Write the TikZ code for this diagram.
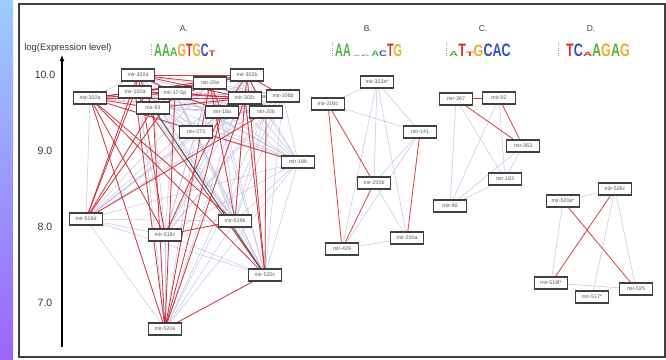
\documentclass[tikz,border=0pt]{standalone}
\usepackage{fontspec}
\setmainfont{Liberation Sans}
\usepackage{graphicx}
\usetikzlibrary{arrows.meta,backgrounds}
\definecolor{lav}{RGB}{185,185,225}
\definecolor{redge}{RGB}{212,40,45}
\definecolor{lgA}{RGB}{80,180,70}
\definecolor{lgC}{RGB}{50,80,190}
\definecolor{lgG}{RGB}{242,170,40}
\definecolor{lgT}{RGB}{225,45,40}
\definecolor{stripTop}{RGB}{155,205,255}
\definecolor{stripBot}{RGB}{155,100,250}
\newcommand{\LLx}{0.6}
\newcommand{\LL}[3]{\scalebox{\LLx}[#2]{\color{#3}#1}}
\tikzset{
  box/.style={draw=black!75, line width=1.1pt, fill=white, minimum width=33pt,
    minimum height=12pt, inner sep=1pt, font=\fontsize{5.3}{6}\selectfont, text=black!65},
  redl/.style={draw=redge, line width=0.8pt, opacity=0.9},
  lavl/.style={draw=lav, line width=0.55pt, opacity=0.8},
  darkl/.style={draw=black!70, line width=0.9pt},
  ticklab/.style={font=\fontsize{10.5}{12}\selectfont, text=black!80},
  panlab/.style={font=\fontsize{8.5}{10}\selectfont, text=black!75},
  logo/.style={font=\fontsize{18}{18}\selectfont\bfseries, anchor=base west, inner sep=0pt},
  logomark/.style={draw=black!40, line width=0.4pt, dotted}
}
\begin{document}
\begin{tikzpicture}[x=1pt,y=-1pt]
\useasboundingbox (0,0) rectangle (666,359);
% left gradient strip
\shade[top color=stripTop, bottom color=stripBot] (0,0) rectangle (13,359);
% frame
\draw[draw=black!75, line width=1.4pt] (19,4) rectangle (665,357);
% axis
\coordinate (axb) at (62,347);
\coordinate (axt) at (62,55);
\draw[line width=1.5pt, -{Latex[length=6pt,width=5pt]}] (axb) -- (axt);
\node[font=\fontsize{9.4}{11}\selectfont, text=black!80] (axlab) at (68,48) {log(Expression level)};
\node[ticklab] (t10) at (45,75) {10.0};
\node[ticklab] (t9) at (45,151) {9.0};
\node[ticklab] (t8) at (45,227) {8.0};
\node[ticklab] (t7) at (45,303) {7.0};
% panel labels
\node[panlab] (pA) at (184,29) {A.};
\node[panlab] (pB) at (368,29) {B.};
\node[panlab] (pC) at (483,29) {C.};
\node[panlab] (pD) at (591,29) {D.};
% logos
\draw[logomark] (151,44) -- (151,56);
\node[logo] (logoA) at (154,56) {\LL{A}{1}{lgA}\LL{A}{1}{lgA}\LL{A}{0.7}{lgA}\LL{G}{1}{lgG}\LL{T}{1}{lgT}\LL{G}{1}{lgG}\LL{C}{1}{lgC}\LL{T}{0.45}{lgT}};
\draw[logomark] (332,43) -- (332,56);
\node[logo] (logoB) at (335,56) {\LL{A}{1}{lgA}\LL{A}{1}{lgA}\hspace{2pt}\LL{A}{0.1}{lgA}\hspace{1pt}\LL{C}{0.1}{lgC}\hspace{2pt}\LL{A}{0.45}{lgA}\LL{C}{0.45}{lgC}\LL{T}{1}{lgT}\LL{G}{0.95}{lgG}};
\renewcommand{\LLx}{0.7}
\draw[logomark] (446,43) -- (446,56);
\node[logo] (logoC) at (449,56) {\LL{A}{0.4}{lgA}\LL{T}{1}{lgT}\LL{T}{0.35}{lgT}\LL{G}{0.9}{lgG}\LL{C}{1}{lgC}\LL{A}{1}{lgC}\LL{C}{1}{lgC}};
\draw[logomark] (558,43) -- (558,56);
\node[logo] (logoD) at (566,56) {\LL{T}{1}{lgT}\LL{C}{1}{lgC}\LL{A}{0.35}{lgT}\LL{A}{1}{lgA}\LL{G}{1}{lgG}\LL{A}{1}{lgA}\LL{G}{1}{lgG}};
% ---- group A nodes
\node[box] (n302d) at (138,75) {mir-302d};
\node[box] (n302b) at (247,75) {mir-302b};
\node[box] (n20a) at (210,83) {mir-20a};
\node[box] (n302a) at (90,98) {mir-302a};
\node[box] (n100a) at (135,92) {mir-100a};
\node[box] (n175p) at (175,93) {mir-17-5p};
\node[box] (n302c) at (245,98) {mir-302c};
\node[box] (n106b) at (283,96) {mir-106b};
\node[box] (n93) at (153,108) {mir-93};
\node[box] (n18a) at (222,112) {mir-18a};
\node[box] (n20b) at (266,112) {mir-20b};
\node[box] (n373) at (196,132) {mir-373};
\node[box] (n18b) at (298,162) {mir-18b};
\node[box] (n519d) at (86,219) {mir-519d};
\node[box] (n519c) at (165,235) {mir-519c};
\node[box] (n519b) at (235,221) {mir-519b};
\node[box] (n520c) at (265,275) {mir-520c};
\node[box] (n520e) at (165,329) {mir-520e};
% ---- group B nodes
\node[box] (n302as) at (377,82) {mir-302a*};
\node[box] (n200c) at (328,104) {mir-200c};
\node[box] (n141) at (420,132) {mir-141};
\node[box] (n200b) at (374,183) {mir-200b};
\node[box] (n200a) at (407,238) {mir-200a};
\node[box] (n429) at (342,249) {mir-429};
% ---- group C nodes
\node[box] (n367) at (456,99) {mir-367};
\node[box] (n92) at (499,98) {mir-92};
\node[box] (n363) at (523,146) {mir-363};
\node[box] (n183) at (505,179) {mir-183};
\node[box] (n96) at (450,206) {mir-96};
% ---- group D nodes
\node[box] (n526c) at (615,189) {mir-526c};
\node[box] (n520as) at (563,201) {mir-520a*};
\node[box] (n518fs) at (551,283) {mir-518f*};
\node[box] (n525) at (636,289) {mir-525};
\node[box] (n517s) at (592,297) {mir-517*};
% ---- edges
\begin{scope}[on background layer]
\def\Alist{n302d,n302b,n20a,n302a,n100a,n175p,n302c,n106b,n93,n18a,n20b,n373,n18b,n519d,n519c,n519b,n520c,n520e}
\foreach \a [count=\i] in \Alist {
  \foreach \b [count=\j] in \Alist {
    \ifnum\j>\i \draw[lavl] (\a) -- (\b); \fi
  }
}
\foreach \a/\b in {n302d/n302b, n302d/n20a, n302d/n100a, n302d/n175p, n302d/n302c,
  n302a/n100a, n302a/n175p, n302a/n302c, n302a/n20a, n100a/n175p, n100a/n302c, n100a/n302b,
  n175p/n20a, n175p/n302c, n175p/n302b, n20a/n302b, n20a/n302c, n302c/n302b, n302c/n106b,
  n20a/n18a, n93/n302c, n93/n20a, n18a/n302b, n20b/n302b, n302d/n93, n302a/n93, n20b/n302c,
  n175p/n18a, n106b/n302b, n100a/n20a,
  n302a/n519c, n302a/n520c, n302a/n519b, n302a/n18b,
  n519d/n100a, n519d/n93, n519d/n175p, n519d/n20b, n519d/n302d,
  n520e/n302a, n520e/n100a, n520e/n93, n520e/n175p, n520e/n20a, n520e/n18a, n520e/n302c, n520e/n520c,
  n520c/n302b, n520c/n302c, n520c/n20b, n520c/n100a,
  n519b/n519c, n519b/n302c, n519b/n20a, n519c/n302d, n519c/n18a}
  \draw[redl] (\a) -- (\b);
\draw[darkl] (n93) -- (n520c);
% B
\foreach \a/\b in {n302as/n200c, n302as/n141, n302as/n200b, n302as/n429, n302as/n200a,
  n200c/n141, n141/n200b, n141/n429, n200b/n200a, n429/n200a}
  \draw[lavl] (\a) -- (\b);
\foreach \a/\b in {n200c/n200b, n200c/n429, n141/n200a, n200b/n429}
  \draw[redl] (\a) -- (\b);
% C
\foreach \a/\b in {n367/n96, n367/n183, n92/n96, n92/n183, n363/n183, n363/n96, n183/n96}
  \draw[lavl] (\a) -- (\b);
\foreach \a/\b in {n367/n92, n367/n363, n92/n363}
  \draw[redl] (\a) -- (\b);
% D
\foreach \a/\b in {n520as/n526c, n520as/n518fs, n526c/n517s, n526c/n525, n518fs/n525}
  \draw[lavl] (\a) -- (\b);
\foreach \a/\b in {n520as/n525, n526c/n518fs}
  \draw[redl] (\a) -- (\b);
\end{scope}
\end{tikzpicture}
\end{document}
